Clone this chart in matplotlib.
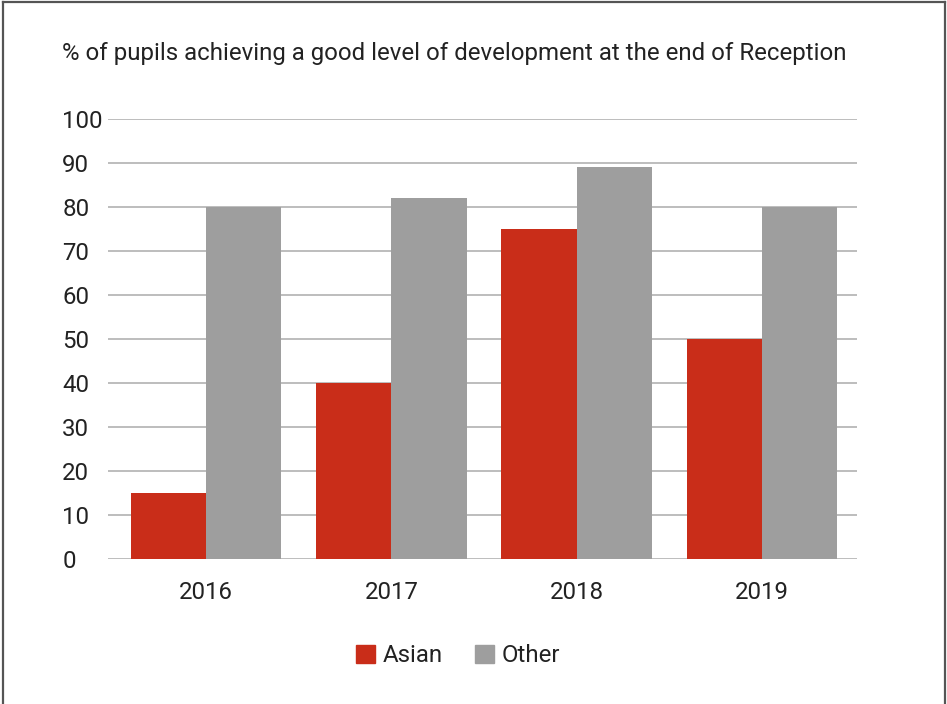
import matplotlib.pyplot as plt
import numpy as np
from matplotlib.lines import Line2D
from matplotlib.patches import Patch

plt.rcParams['font.family'] = ['Roboto', 'DejaVu Sans']

years = ['2016', '2017', '2018', '2019']
asian = [15, 40, 75, 50]
other = [80, 82, 89, 80]
yticks = list(range(0, 101, 10))

red = '#c92d19'
grey = '#9e9e9e'
txt = '#222222'
fs = 17.3

fig = plt.figure(figsize=(9.47, 7.04), dpi=100)
ax = fig.add_axes([108/947, 1 - 559/704, (857-108)/947, (559-119)/704])

x = np.arange(len(years))
w = 0.407
ax.bar(x - w/2, asian, w, color=red, zorder=3)
ax.bar(x + w/2, other, w, color=grey, zorder=3)

ax.set_ylim(0, 100)
ax.set_xlim(-0.529, 3.513)
ax.set_yticks(yticks)
ax.set_yticklabels([str(v) for v in yticks], ha='left')
ax.yaxis.grid(True, color='#bdbdbd', linewidth=1.4, zorder=0)
ax.set_xticks(x)
ax.set_xticklabels(years)
ax.tick_params(axis='y', length=0, pad=33, labelsize=fs, labelcolor=txt)
ax.tick_params(axis='x', length=0, pad=16, labelsize=fs, labelcolor=txt)
for s in ax.spines.values():
    s.set_visible(False)

fig.text(62/947, 1 - 60/704, '% of pupils achieving a good level of development at the end of Reception',
         fontsize=fs, color=txt, va='baseline', ha='left')

handles = [Patch(color=red, label='Asian'), Patch(color=grey, label='Other')]
fig.legend(handles=handles, loc='center', bbox_to_anchor=(458/947, 1 - 656/704),
           ncol=2, frameon=False, fontsize=fs, handlelength=0.8, handleheight=0.8,
           handletextpad=0.3, columnspacing=1.35, labelcolor=txt)

# outer frame (open at the bottom)
bc = '#555555'
fig.add_artist(Line2D([3/947, 3/947], [0, 1 - 2/704], color=bc, lw=1.6))
fig.add_artist(Line2D([945/947, 945/947], [0, 1 - 2/704], color=bc, lw=1.6))
fig.add_artist(Line2D([3/947, 945/947], [1 - 2/704, 1 - 2/704], color=bc, lw=1.6))

fig.savefig('out.png', dpi=100)
